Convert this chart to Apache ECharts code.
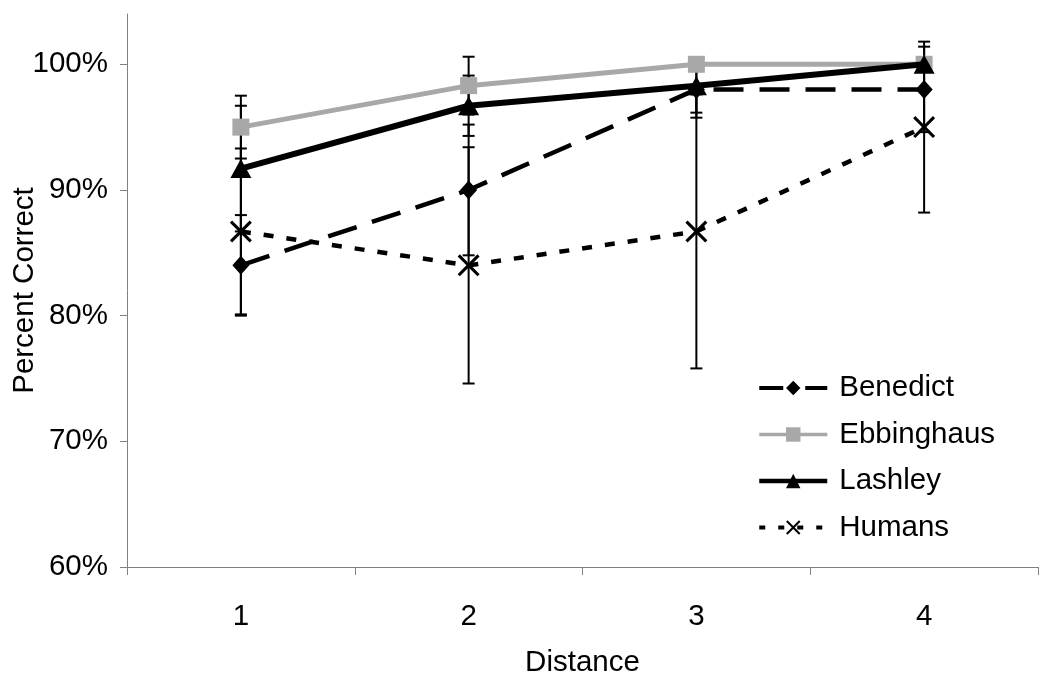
<!DOCTYPE html>
<html><head><meta charset="utf-8">
<script src="https://cdn.jsdelivr.net/npm/echarts@6/dist/echarts.min.js"></script>
<style>html,body{margin:0;padding:0;background:#fff}#c{width:1050px;height:687px}</style>
</head><body><div id="c"></div>
<script>
const categories = ['1', '2', '3', '4'];
const yTicks = [60, 70, 80, 90, 100];
const benedict = [84, 90, 98, 98];
const benedictErr = [4, 5.2, 2.25, 3.4];
const ebbinghaus = [95, 98.3, 100, 100];
const ebbinghausErr = [2.5, 2.3, 0, 0];
const lashley = [91.7, 96.7, 98.3, 100];
const lashleyErr = [5, 2.4, 2.15, 0];
const humans = [86.7, 84, 86.7, 95];
const humansErr = [6.6, 9.4, 10.9, 6.8];

const FONT = 'Liberation Sans, Arial, sans-serif';
const FS = 29.5;
const AXIS = '#808080';
const X_PATH = 'path://M2,0 L10,8 L18,0 L20,2 L12,10 L20,18 L18,20 L10,12 L2,20 L0,18 L8,10 L0,2 Z';

function errData(vals, errs) {
  const out = [];
  vals.forEach((v, i) => { if (errs[i] > 0) out.push([i, v - errs[i], v + errs[i]]); });
  return out;
}
function renderErr(params, api) {
  const x = api.value(0);
  const pLo = api.coord([x, api.value(1)]);
  const pHi = api.coord([x, api.value(2)]);
  const w = 6;
  const st = { stroke: '#000', lineWidth: 2 };
  return { type: 'group', children: [
    { type: 'line', shape: { x1: pHi[0], y1: pHi[1], x2: pLo[0], y2: pLo[1] }, style: st },
    { type: 'line', shape: { x1: pHi[0] - w, y1: pHi[1], x2: pHi[0] + w, y2: pHi[1] }, style: st },
    { type: 'line', shape: { x1: pLo[0] - w, y1: pLo[1], x2: pLo[0] + w, y2: pLo[1] }, style: st }
  ]};
}
const errSeries = [[benedict, benedictErr], [ebbinghaus, ebbinghausErr], [lashley, lashleyErr], [humans, humansErr]]
  .map(([v, e]) => ({ type: 'custom', renderItem: renderErr, data: errData(v, e), encode: { x: 0, y: [1, 2] }, z: 1, silent: true }));

const chart = echarts.init(document.getElementById('c'));
chart.setOption({
  animation: false,
  backgroundColor: '#fff',
  textStyle: { fontFamily: FONT },
  grid: { left: 127, right: 12, top: 14, bottom: 120, containLabel: false, outerBoundsMode: 'none' },
  legend: {
    orient: 'vertical', left: 757, top: 373, padding: 0, itemWidth: 68, itemHeight: 18, itemGap: 16.5,
    data: [
      { name: 'Benedict', lineStyle: { width: 4, type: [24, 22] } },
      { name: 'Ebbinghaus', lineStyle: { width: 3.5 } },
      { name: 'Lashley', lineStyle: { width: 4.5 } },
      { name: 'Humans', lineStyle: { width: 4, type: [6, 13] } }
    ],
    textStyle: { fontSize: FS, color: '#000', fontFamily: FONT, padding: [0, 0, 0, 7] }
  },
  xAxis: {
    type: 'category', data: categories, boundaryGap: true,
    name: 'Distance', nameLocation: 'middle', nameGap: 81, nameMoveOverlap: false,
    nameTextStyle: { fontSize: FS, color: '#000', fontFamily: FONT },
    axisLine: { lineStyle: { color: AXIS, width: 1 } },
    axisTick: { show: true, length: 8, inside: false, alignWithLabel: false, lineStyle: { color: AXIS } },
    axisLabel: { fontSize: FS, color: '#000', margin: 35, fontFamily: FONT },
    splitLine: { show: false }
  },
  yAxis: {
    type: 'value', min: 60, max: 104, interval: 10,
    name: 'Percent Correct', nameLocation: 'middle', nameGap: 87, nameRotate: 90, nameMoveOverlap: false,
    nameTextStyle: { fontSize: FS, color: '#000', fontFamily: FONT },
    axisLine: { show: true, lineStyle: { color: AXIS, width: 1 } },
    axisTick: { show: true, length: 7, customValues: yTicks, lineStyle: { color: AXIS } },
    axisLabel: { fontSize: FS, color: '#000', margin: 19, fontFamily: FONT, customValues: yTicks, formatter: v => v + '%' },
    splitLine: { show: false }
  },
  series: [
    ...errSeries,
    { name: 'Benedict', type: 'line', data: benedict, z: 3, symbol: 'diamond', symbolSize: [17, 19],
      lineStyle: { color: '#000', width: 4.5, type: [30, 16] }, itemStyle: { color: '#000' } },
    { name: 'Ebbinghaus', type: 'line', data: ebbinghaus, z: 2, symbol: 'rect', symbolSize: 17,
      lineStyle: { color: '#a8a8a8', width: 5 }, itemStyle: { color: '#a8a8a8' } },
    { name: 'Lashley', type: 'line', data: lashley, z: 3, symbol: 'triangle', symbolSize: [21, 19],
      lineStyle: { color: '#000', width: 6 }, itemStyle: { color: '#000' } },
    { name: 'Humans', type: 'line', data: humans, z: 3, symbol: X_PATH, symbolSize: 22,
      lineStyle: { color: '#000', width: 4.5, type: [10, 13] }, itemStyle: { color: '#000' } }
  ]
});
</script></body></html>
